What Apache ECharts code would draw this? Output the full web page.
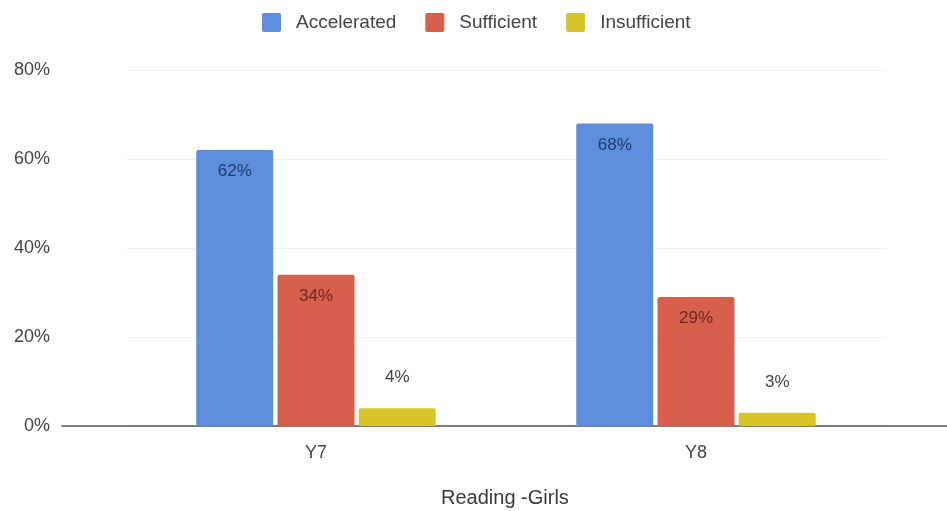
<!DOCTYPE html>
<html>
<head>
<meta charset="utf-8">
<script src="https://cdn.jsdelivr.net/npm/echarts@6/dist/echarts.min.js"></script>
<style>
  html, body { margin: 0; padding: 0; background: #ffffff; }
  #chart { width: 947px; height: 511px; }
</style>
</head>
<body>
<div id="chart"></div>
<script>
// Reading results for girls, by year group
const categories = ['Y7', 'Y8'];
const seriesNames = ['Accelerated', 'Sufficient', 'Insufficient'];
const accelerated = [62, 68];
const sufficient = [34, 29];
const insufficient = [4, 3];
const yTicks = [0, 20, 40, 60, 80];

const colors = ['#5c8edb', '#d6604c', '#d6c428'];
const labelColors = ['#1f3d6e', '#6a2a22', '#444444'];
const font = 'Liberation Sans, Arial, sans-serif';

// square legend swatch with slightly softened corners
const swatch = 'path://M1,0H9A1,1,0,0,1,10,1V9A1,1,0,0,1,9,10H1A1,1,0,0,1,0,9V1A1,1,0,0,1,1,0Z';

const chart = echarts.init(document.getElementById('chart'));

function barSeries(name, data, i) {
  const outside = i === 2;
  return {
    name: name,
    type: 'bar',
    data: data,
    xAxisIndex: 0,
    yAxisIndex: 0,
    barWidth: 77,
    barGap: '5.5%',
    itemStyle: { color: colors[i], borderRadius: 2 },
    label: {
      show: true,
      position: outside ? 'top' : 'insideTop',
      distance: outside ? 22 : 13,
      formatter: '{c}%',
      color: labelColors[i],
      fontFamily: font,
      fontSize: 17
    }
  };
}

chart.setOption({
  animation: false,
  color: colors,
  title: {
    text: 'Reading -Girls',
    left: 436,
    top: 483,
    textStyle: { fontFamily: font, fontSize: 20, fontWeight: 'normal', color: '#3a3a3a' }
  },
  legend: {
    data: seriesNames,
    top: 8,
    left: 257,
    icon: swatch,
    itemWidth: 19,
    itemHeight: 19,
    itemGap: 29,
    textStyle: { fontFamily: font, fontSize: 19, color: '#444444', padding: [0, 0, 0, 10] }
  },
  grid: [
    { left: 126, right: 61, top: 70, bottom: 85 },
    { left: 62, right: 0, top: 70, bottom: 85 }
  ],
  xAxis: [
    {
      type: 'category',
      gridIndex: 0,
      data: categories,
      axisLine: { show: false },
      axisTick: { show: false },
      axisLabel: { margin: 18, fontFamily: font, fontSize: 18, color: '#444444' }
    },
    {
      // baseline across the full plot width
      type: 'category',
      gridIndex: 1,
      data: categories,
      axisLine: { show: true, lineStyle: { color: '#555555', width: 1.5 } },
      axisTick: { show: false },
      axisLabel: { show: false }
    }
  ],
  yAxis: [
    {
      type: 'value',
      gridIndex: 0,
      min: yTicks[0],
      max: yTicks[yTicks.length - 1],
      interval: yTicks[1] - yTicks[0],
      axisLine: { show: false },
      axisTick: { show: false },
      axisLabel: { margin: 76, formatter: '{value}%', fontFamily: font, fontSize: 18, color: '#444444' },
      splitLine: { lineStyle: { color: '#f2f2f2' } }
    },
    {
      type: 'value',
      gridIndex: 1,
      min: 0,
      max: 80,
      show: false
    }
  ],
  series: [
    barSeries(seriesNames[0], accelerated, 0),
    barSeries(seriesNames[1], sufficient, 1),
    barSeries(seriesNames[2], insufficient, 2)
  ]
});
</script>
</body>
</html>
